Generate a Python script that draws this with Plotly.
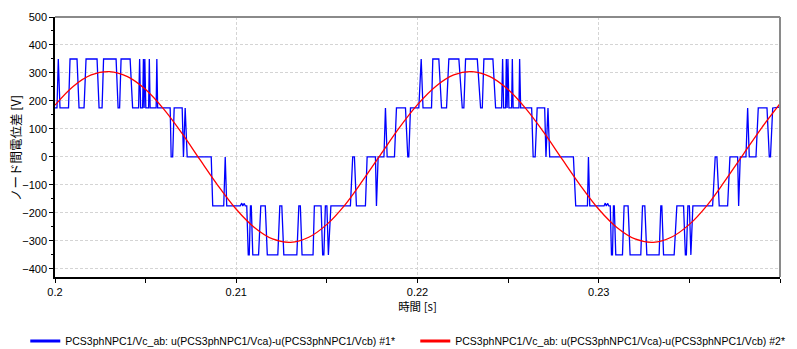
import plotly.graph_objects as go

# ---- data (time in ms after 0.2 s) ----
blue_ms = [
    0.000, 0.110, 0.182, 0.276, 0.746, 0.829, 1.215, 1.326, 1.602, 1.713,
    2.320, 2.431, 2.597, 2.680, 3.370, 3.481, 3.564, 3.646, 4.144, 4.282,
    4.613, 4.669, 4.724, 4.834, 4.878, 4.917, 4.956, 5.011, 5.166, 5.204,
    5.249, 5.580, 5.619, 5.663, 6.354, 6.409, 6.492, 6.575, 7.017, 7.088,
    7.182, 7.293, 8.619, 8.702, 9.309, 9.392, 9.475, 10.221, 10.304, 10.359,
    10.442, 10.497, 10.580, 10.663, 10.718, 10.785, 10.829, 10.912, 11.232, 11.354,
    11.602, 11.713, 12.293, 12.403, 12.514, 12.624, 13.343, 13.453, 13.536, 13.630,
    14.238, 14.309, 14.680, 14.768, 14.834, 14.917, 15.000, 15.083, 15.221, 16.298,
    16.425, 16.519, 16.630, 17.127, 17.221, 17.680, 17.735, 17.829, 18.149, 18.232,
    18.326, 18.729, 18.840, 19.337, 19.464, 19.519, 19.613, 20.072, 20.204, 20.304,
    20.773, 20.845, 21.177, 21.326, 21.602, 21.729, 22.282, 22.470, 22.558, 22.652,
    23.298, 23.481, 23.575, 23.663, 24.160, 24.309, 24.641, 24.696, 24.751, 24.862,
    24.900, 24.945, 24.989, 25.044, 25.193, 25.232, 25.276, 25.597, 25.635, 25.691,
    26.298, 26.381, 26.492, 26.602, 27.017, 27.088, 27.199, 27.293, 28.602, 28.729,
    29.376, 29.431, 29.503, 30.293, 30.359, 30.414, 30.497, 30.552, 30.635, 30.702,
    30.757, 30.812, 30.856, 30.939, 31.309, 31.398, 31.619, 31.729, 32.320, 32.414,
    32.541, 32.652, 33.331, 33.425, 33.481, 33.575, 34.160, 34.309, 34.680, 34.779,
    34.834, 34.917, 35.000, 35.083, 35.193, 36.282, 36.425, 36.519, 36.646, 37.110,
    37.238, 37.663, 37.718, 37.807, 38.122, 38.215, 38.304, 38.674, 38.801, 39.282,
    39.409, 39.475, 39.597, 40.000,
]
blue_v = [
    175, 175, 350, 175, 175, 350, 350, 175, 175, 350,
    350, 175, 175, 350, 350, 175, 175, 350, 350, 175,
    175, 350, 175, 175, 350, 175, 350, 175, 175, 350,
    175, 175, 350, 175, 175, 0, 0, 175, 175, 0,
    175, 0, 0, -175, -175, 0, -175, -175, -165, -175,
    -166, -175, -175, -350, -350, -175, -175, -350, -350, -175,
    -175, -350, -350, -175, -175, -350, -350, -175, -175, -350,
    -350, -175, -175, -350, -350, -175, -175, -350, -175, -175,
    0, 0, -175, -175, 0, 0, -175, 0, 0, 175,
    0, 0, 175, 175, 0, 0, 175, 175, 350, 175,
    175, 350, 350, 175, 175, 350, 350, 175, 175, 350,
    350, 175, 175, 350, 350, 175, 175, 350, 175, 175,
    350, 175, 350, 175, 175, 350, 175, 175, 350, 175,
    175, 0, 0, 175, 175, 0, 175, 0, 0, -175,
    -175, 0, -175, -175, -165, -175, -166, -175, -175, -350,
    -350, -175, -175, -350, -350, -175, -175, -350, -350, -175,
    -175, -350, -350, -175, -175, -350, -350, -175, -175, -350,
    -350, -175, -175, -350, -175, -175, 0, 0, -175, -175,
    0, 0, -175, 0, 0, 175, 0, 0, 175, 175,
    0, 0, 175, 178,
]

red_ms = list(range(0, 41))
red_v = [
    185, 252, 293, 305, 287, 241, 171, 85, -10, -103,
    -187, -252, -293, -305, -287, -241, -171, -82, 12, 105,
    187, 252, 293, 305, 287, 241, 171, 85, -10, -103,
    -187, -252, -293, -305, -287, -241, -171, -82, 12, 105,
    190,
]

t0 = 0.2
x_ticks = [0.2, 0.21, 0.22, 0.23]
x_tick_text = ["0.2", "0.21", "0.22", "0.23"]
y_ticks = [-400, -300, -200, -100, 0, 100, 200, 300, 400, 500]

name1 = "PCS3phNPC1/Vc_ab: u(PCS3phNPC1/Vca)-u(PCS3phNPC1/Vcb) #1*"
name2 = "PCS3phNPC1/Vc_ab: u(PCS3phNPC1/Vca)-u(PCS3phNPC1/Vcb) #2*"
x_title = "時間 [s]"
y_title = "ノード間電位差 [V]"
color1 = "#0000FF"
color2 = "#FF0000"

blue_t = [t0 + m / 1000.0 for m in blue_ms]
red_t = [t0 + m / 1000.0 for m in red_ms]

fig = go.Figure()
fig.add_trace(go.Scatter(x=blue_t, y=blue_v, mode="lines", name=name1, showlegend=False,
                         line=dict(color=color1, width=1.3)))
fig.add_trace(go.Scatter(x=red_t, y=red_v, mode="lines", name=name2, showlegend=False,
                         line=dict(color=color2, width=1.3, shape="spline", smoothing=1.0)))
# legend entries (thicker sample lines as in the reference)
fig.add_trace(go.Scatter(x=[None], y=[None], mode="lines", name=name1,
                         line=dict(color=color1, width=3)))
fig.add_trace(go.Scatter(x=[None], y=[None], mode="lines", name=name2,
                         line=dict(color=color2, width=3)))

font_main = "Liberation Sans, Arial, Noto Sans CJK JP, sans-serif"
grid = dict(showgrid=True, gridcolor="#d4d4d4", griddash="3px,2px", gridwidth=1)

fig.update_layout(
    width=797, height=349,
    margin=dict(l=55, r=17, t=17, b=72, autoexpand=False),
    paper_bgcolor="white", plot_bgcolor="white",
    font=dict(family=font_main, size=11, color="#000000"),
    showlegend=True,
    legend=dict(orientation="h", x=-0.041, xanchor="left", y=-0.246, yanchor="middle",
                font=dict(size=10.5), entrywidth=345, tracegroupgap=0,
                bgcolor="rgba(0,0,0,0)"),
    xaxis=dict(range=[0.2, 0.24], tickvals=x_ticks, ticktext=x_tick_text,
               ticks="outside", ticklen=4, tickcolor="#000", tickwidth=1,
               minor=dict(dtick=0.005, ticks="outside", ticklen=4, tickcolor="#000", showgrid=False),
               showline=True, linecolor="#000", linewidth=1.5, zeroline=False, automargin=False,
               title=dict(text=x_title, font=dict(size=11.5, family="Noto Sans CJK JP"), standoff=2),
               **grid),
    yaxis=dict(range=[-429, 500], tickvals=y_ticks,
               ticks="outside", ticklen=4, tickcolor="#000", tickwidth=1,
               minor=dict(dtick=50, ticks="outside", ticklen=2, tickcolor="#000", showgrid=False),
               showline=True, linecolor="#000", linewidth=1.5, zeroline=False, automargin=False,
               **grid),
    annotations=[
        dict(text=y_title, textangle=-90, xref="paper", yref="paper",
             x=-0.0552, y=0.496, xanchor="center", yanchor="middle", showarrow=False,
             font=dict(size=12.5, family="Noto Sans CJK JP", color="#000")),
    ],
    shapes=[
        dict(type="line", xref="paper", yref="paper", x0=0, x1=1, y0=1, y1=1,
             line=dict(color="#8a8a8a", width=2)),
        dict(type="line", xref="paper", yref="paper", x0=1, x1=1, y0=0, y1=1,
             line=dict(color="#8a8a8a", width=2)),
    ],
)

fig.write_html("out.html", config={"displayModeBar": False},
               post_script="document.body.style.margin='0';")
